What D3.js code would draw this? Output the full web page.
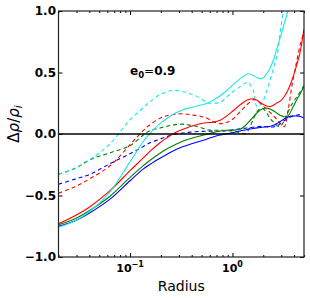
<!DOCTYPE html>
<html><head><meta charset="utf-8">
<script src="https://cdn.jsdelivr.net/npm/d3@7"></script>
<style>body{margin:0;background:#fff}svg{display:block}</style>
</head><body>
<svg id="c" width="310" height="298"></svg>
<script>
// Radius grid (shared by all series)
const radius = [0.02, 0.029, 0.0406, 0.0637, 0.1, 0.134, 0.157, 0.196, 0.23, 0.275, 0.33, 0.386, 0.483, 0.566, 0.647, 0.759, 0.887, 1.016, 1.19, 1.33, 1.42, 1.59, 1.74, 1.95, 2.13, 2.34, 2.56, 2.73, 2.93, 3.2, 3.5, 3.83, 4.2, 4.59, 5.0];
// solid lines
const cyanSolid  = [-0.758,-0.705,-0.628,-0.470,-0.225,-0.063,0.007,0.084,0.128,0.169,0.198,0.214,0.234,0.250,0.275,0.311,0.356,0.401,0.450,0.478,0.490,0.478,0.458,0.450,0.482,0.539,0.620,0.702,0.783,0.897,1.003,1.116,1.254,1.417,1.58];
const redSolid   = [-0.729,-0.664,-0.591,-0.461,-0.298,-0.197,-0.140,-0.071,-0.030,0.011,0.039,0.061,0.084,0.092,0.096,0.112,0.149,0.189,0.238,0.267,0.279,0.287,0.275,0.246,0.230,0.224,0.238,0.254,0.267,0.303,0.360,0.441,0.547,0.669,0.856];
const greenSolid = [-0.737,-0.689,-0.620,-0.506,-0.352,-0.259,-0.213,-0.156,-0.120,-0.087,-0.057,-0.038,-0.016,-0.002,0.011,0.024,0.031,0.031,0.039,0.067,0.092,0.137,0.173,0.203,0.211,0.202,0.185,0.169,0.153,0.140,0.148,0.206,0.271,0.328,0.389];
const blueSolid  = [-0.750,-0.705,-0.640,-0.530,-0.380,-0.286,-0.246,-0.197,-0.164,-0.130,-0.102,-0.083,-0.059,-0.041,-0.024,-0.008,0.002,0.011,0.025,0.033,0.038,0.045,0.050,0.055,0.059,0.063,0.074,0.086,0.102,0.122,0.138,0.145,0.146,0.142,0.130];
// dashed lines
const cyanDashed  = [-0.327,-0.282,-0.209,-0.079,0.116,0.211,0.263,0.320,0.344,0.355,0.344,0.328,0.293,0.254,0.250,0.257,0.303,0.346,0.385,0.413,0.420,0.360,0.222,0.254,0.336,0.441,0.555,0.637,0.832,1.035,1.214,1.376,1.54,1.70,1.87];
const redDashed   = [-0.481,-0.428,-0.363,-0.258,-0.087,0.027,0.076,0.128,0.149,0.161,0.165,0.157,0.145,0.128,0.100,0.084,0.096,0.124,0.181,0.222,0.246,0.279,0.271,0.234,0.206,0.173,0.141,0.116,0.084,0.059,0.198,0.401,0.572,0.726,0.832];
const greenDashed = [-0.327,-0.278,-0.209,-0.152,-0.095,-0.010,0.027,0.049,0.063,0.076,0.080,0.072,0.055,0.035,0.031,0.031,0.027,0.023,0.011,0.002,0.027,0.116,0.181,0.210,0.181,0.124,0.092,0.067,0.063,0.108,0.181,0.246,0.295,0.343,0.393];
const blueDashed  = [-0.408,-0.367,-0.327,-0.241,-0.160,-0.103,-0.071,-0.042,-0.020,-0.002,0.008,0.015,0.021,0.023,0.023,0.021,0.027,0.035,0.043,0.047,0.051,0.055,0.059,0.062,0.059,0.055,0.059,0.067,0.084,0.108,0.128,0.145,0.153,0.157,0.161];

const yTicks = [-1.0, -0.5, 0.0, 0.5, 1.0];
const xMajor = [0.1, 1];
const xMajorExp = ["-1", "0"];
const xMinor = [0.02,0.03,0.04,0.05,0.06,0.07,0.08,0.09,0.2,0.3,0.4,0.5,0.6,0.7,0.8,0.9,2,3,4,5];
const annotation = {base: "e", sub: "0", rest: "=0.9"};

const L = 58.5, R = 304, T = 11, B = 257;
const svg = d3.select("#c");
const x = d3.scaleLog().domain([0.02, 5]).range([L, R]);
const y = d3.scaleLinear().domain([-1, 1]).range([B, T]);

svg.append("defs").append("clipPath").attr("id", "clip")
  .append("rect").attr("x", L).attr("y", T).attr("width", R - L).attr("height", B - T);

const series = [
  {v: blueDashed, c: "#0000ff", d: true},
  {v: greenDashed, c: "#008000", d: true},
  {v: redDashed, c: "#ff0000", d: true},
  {v: cyanDashed, c: "#1ee6e6", d: true},
  {v: blueSolid, c: "#0000ff", d: false},
  {v: greenSolid, c: "#008000", d: false},
  {v: redSolid, c: "#ff0000", d: false},
  {v: cyanSolid, c: "#1ee6e6", d: false},
];
const line = d3.line().x(d => x(d[0])).y(d => y(d[1])).curve(d3.curveCatmullRom.alpha(0.5));
const g = svg.append("g").attr("clip-path", "url(#clip)");
series.forEach(s => {
  g.append("path").datum(radius.map((r, i) => [r, s.v[i]]))
    .attr("d", line).attr("fill", "none").attr("stroke", s.c)
    .attr("stroke-width", 1.1)
    .attr("stroke-dasharray", s.d ? "4,3" : null);
});
// zero line
svg.append("line").attr("x1", L).attr("x2", R).attr("y1", y(0)).attr("y2", y(0))
  .attr("stroke", "#000").attr("stroke-width", 1.6);

// axes (ticks inward)
function ax(gen, tr) {
  const a = svg.append("g").attr("transform", tr).call(gen);
  a.select(".domain").remove();
  a.selectAll(".tick line").attr("stroke", "#000");
  return a;
}
ax(d3.axisBottom(x).tickValues(xMinor).tickSize(-2).tickFormat(""), `translate(0,${B})`);
ax(d3.axisBottom(x).tickValues(xMajor).tickSize(-4).tickFormat(""), `translate(0,${B})`);
ax(d3.axisTop(x).tickValues(xMinor).tickSize(-2).tickFormat(""), `translate(0,${T})`);
ax(d3.axisTop(x).tickValues(xMajor).tickSize(-4).tickFormat(""), `translate(0,${T})`);
const yl = ax(d3.axisLeft(y).tickValues(yTicks).tickSize(-4).tickPadding(2.5).tickFormat(d3.format(".1f")), `translate(${L},0)`);
yl.selectAll("text").attr("font-family", "DejaVu Sans").attr("font-weight", "bold").attr("font-size", 12).attr("fill", "#000");
ax(d3.axisRight(y).tickValues(yTicks).tickSize(-4).tickFormat(""), `translate(${R},0)`);

// frame
svg.append("rect").attr("x", L).attr("y", T).attr("width", R - L).attr("height", B - T)
  .attr("fill", "none").attr("stroke", "#222").attr("stroke-width", 1.2);

// x tick labels with superscript
xMajor.forEach((v, i) => {
  const t = svg.append("text").attr("x", x(v)).attr("y", 272).attr("text-anchor", "middle")
    .attr("font-family", "DejaVu Sans").attr("font-weight", "bold").attr("font-size", 11);
  t.append("tspan").text("10");
  t.append("tspan").attr("dy", -5).attr("font-size", 8).text(xMajorExp[i].replace("-", "−"));
});
svg.append("text").attr("x", (L + R) / 2).attr("y", 291).attr("text-anchor", "middle")
  .attr("font-family", "DejaVu Sans").attr("font-size", 14).text("Radius");

// y label
const ylab = svg.append("text").attr("transform", "translate(19,124) rotate(-90)")
  .attr("text-anchor", "middle").attr("font-family", "DejaVu Sans").attr("font-size", 15);
ylab.append("tspan").text("Δ");
ylab.append("tspan").attr("font-style", "italic").text("ρ");
ylab.append("tspan").text("/");
ylab.append("tspan").attr("font-style", "italic").text("ρ");
ylab.append("tspan").attr("font-style", "italic").attr("font-size", 10.5).attr("dy", 3).text("i");

// annotation
const an = svg.append("text").attr("x", x(0.1)).attr("y", 75)
  .attr("font-family", "DejaVu Sans").attr("font-size", 12);
an.append("tspan").attr("font-weight", "bold").text(annotation.base);
an.append("tspan").attr("font-weight", "bold").attr("font-size", 8.5).attr("dy", 3).text(annotation.sub);
an.append("tspan").attr("dy", -3).text(annotation.rest[0]);
an.append("tspan").attr("font-weight", "bold").text(annotation.rest.slice(1));
</script>
</body></html>
